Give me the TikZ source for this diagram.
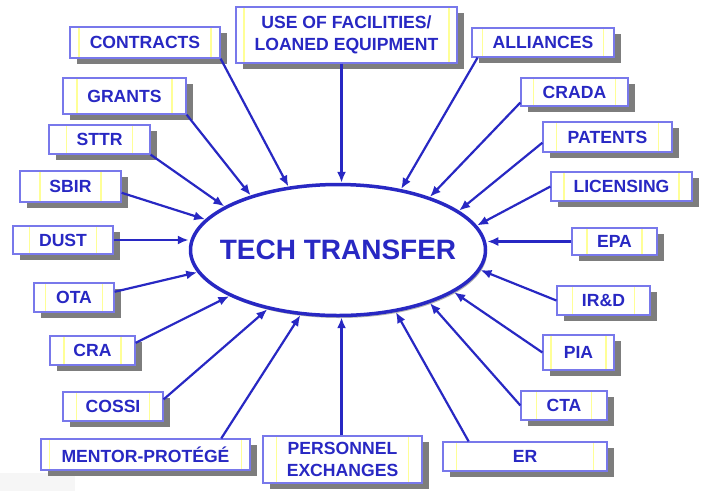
\documentclass[tikz,border=0pt]{standalone}
\usepackage{fontspec}
\setmainfont{Liberation Sans}
\usetikzlibrary{shapes,shadows,arrows.meta}
\definecolor{tblue}{RGB}{40,40,195}
\definecolor{lblue}{RGB}{120,120,235}
\definecolor{yline}{RGB}{255,255,150}
\definecolor{shgray}{RGB}{125,125,125}
\tikzset{yin/.store in=\yin, yin=10pt}
\tikzstyle{line} = [draw, -{Latex[length=11pt, width=9pt]}, line width=2.2pt, tblue]
\tikzstyle{tbox} = [rectangle, draw=lblue, line width=1.2pt, fill=white, inner sep=0pt, text=tblue, align=center, font=\fontsize{17.6}{21.7}\selectfont\bfseries, drop shadow={shadow xshift=7pt, shadow yshift=-6pt, fill=shgray, opacity=1}, path picture={\draw [yline, line width=1.2pt] ([xshift=\yin]path picture bounding box.south west) rectangle ([xshift=-\yin]path picture bounding box.north east);}]
\tikzstyle{hub} = [ellipse, draw=tblue, line width=3.5pt, fill=white, inner sep=0pt, minimum width=295pt, minimum height=131pt, text=tblue, font=\fontsize{28}{30}\selectfont\bfseries, drop shadow={shadow xshift=1.5pt, shadow yshift=-2.5pt, fill=gray!60, opacity=1}]

\begin{document}
\begin{tikzpicture}[x=1pt, y=-1pt]
		\useasboundingbox (0,0) rectangle (706,491);
		\fill [gray!7] (0,473) rectangle (75,491);
		\node [hub] (tech) at (338,250) {\makebox[0pt]{TECH TRANSFER}};
		
		\node [tbox, minimum width=150pt, minimum height=31pt, yin=9pt] (contracts) at (145,42.5) {CONTRACTS};
		\node [tbox, minimum width=221pt, minimum height=56pt, yin=8pt] (facil) at (346.5,35) {USE OF FACILITIES/\\LOANED EQUIPMENT};
		\node [tbox, minimum width=142pt, minimum height=29pt, yin=10.5pt] (alliances) at (543,42.5) {ALLIANCES};
		\node [tbox, minimum width=123pt, minimum height=36pt, yin=14pt] (grants) at (124.5,96) {GRANTS};
		\node [tbox, minimum width=107pt, minimum height=28pt, yin=12.5pt] (crada) at (574.5,92) {CRADA};
		\node [tbox, minimum width=101pt, minimum height=29pt, yin=17.5pt] (sttr) at (99.5,139.5) {STTR};
		\node [tbox, minimum width=129pt, minimum height=30pt, yin=13.5pt] (patents) at (607.5,137) {PATENTS};
		\node [tbox, minimum width=101pt, minimum height=31pt, yin=20pt] (sbir) at (70.5,186.5) {SBIR};
		\node [tbox, minimum width=141pt, minimum height=29pt, yin=13pt] (licensing) at (621.5,186.5) {LICENSING};
		\node [tbox, minimum width=100pt, minimum height=28pt, yin=16.5pt] (dust) at (63,240) {DUST};
		\node [tbox, minimum width=85pt, minimum height=27pt, yin=15pt] (epa) at (614.5,241.5) {EPA};
		\node [tbox, minimum width=80pt, minimum height=29pt, yin=11.5pt] (ota) at (74,297.5) {OTA};
		\node [tbox, minimum width=93pt, minimum height=29pt, yin=15.5pt] (ird) at (603.5,300.5) {IR\&D};
		\node [tbox, minimum width=85pt, minimum height=29pt, yin=14pt] (cra) at (92.5,350.5) {CRA};
		\node [tbox, minimum width=71pt, minimum height=35pt, yin=8pt] (pia) at (578.5,352.5) {PIA};
		\node [tbox, minimum width=100pt, minimum height=29pt, yin=13.5pt] (cossi) at (113,406.5) {COSSI};
		\node [tbox, minimum width=86pt, minimum height=29pt, yin=15.5pt] (cta) at (564,405.5) {CTA};
		\node [tbox, minimum width=209pt, minimum height=31pt, yin=8.5pt] (mentor) at (145.5,454.5) {MENTOR-PROTÉGÉ};
		\node [tbox, minimum width=159pt, minimum height=47pt, yin=13.5pt] (personnel) at (342.5,459.5) {PERSONNEL\\EXCHANGES};
		\node [tbox, minimum width=164pt, minimum height=29pt, yin=13.5pt] (er) at (525,456.5) {ER};
		
		\path [line] (contracts.south east) to (tech.128);
		\path [line] (facil.south -| tech.87) to (tech.87);
		\path [line] (alliances.193) to (tech.44);
		\path [line] (grants.south east) to (tech.148);
		\path [line] (crada.191) to (tech.30);
		\path [line] (sttr.south east) to (tech.159);
		\path [line] (patents.185) to (tech.18);
		\path [line] (sbir.-7) to (tech.167);
		\path [line] (licensing.west) to (tech.10);
		\path [line] (dust.east) to (dust.east -| tech.west);
		\path [line] (epa.west) to (epa.west -| tech.east);
		\path [line] (ota.8) to (tech.189);
		\path [line] (ird.west) to (tech.-8);
		\path [line] (cra.10) to (tech.203);
		\path [line] (pia.west) to (tech.340);
		\path [line] (cossi.8) to (tech.220);
		\path [line] (cta.west) to (tech.330);
		\path [line] (mentor.12) to (tech.240);
		\path [line] (personnel.north -| tech.273) to (tech.273);
		\path [line] (er.165) to (tech.313);
		
	\end{tikzpicture}
\end{document}
